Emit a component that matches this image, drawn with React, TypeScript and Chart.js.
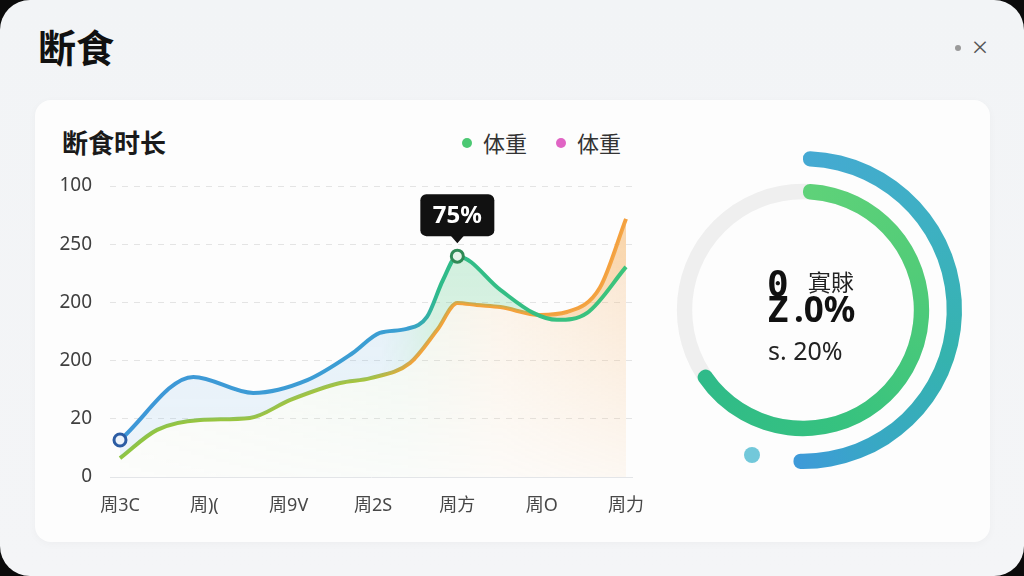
import React, { useEffect, useRef } from "react";
import { Chart, registerables } from "chart.js";

Chart.register(...registerables);

// ---------- data ----------
const CATEGORIES = ["周3C", "周)(", "周9V", "周2S", "周方", "周O", "周力"];
const Y_TICK_VALUES = [0, 20, 40, 60, 80, 100];
const Y_TICK_LABELS = ["0", "20", "200", "200", "250", "100"];

const SERIES_A_X = [0, 0.87, 1.58, 2.22, 2.76, 3.08, 3.4, 3.64, 3.83, 4.0, 4.51, 4.9, 5.18, 5.54, 6.0];
const SERIES_A_Y = [12.7, 34.4, 28.9, 33.3, 42.6, 49.5, 50.9, 55.0, 67.7, 75.9, 64.3, 56.4, 54.0, 56.4, 72.2];
const SERIES_B_X = [0, 0.44, 0.95, 1.54, 2.02, 2.61, 2.97, 3.44, 3.76, 4.0, 4.23, 4.51, 4.98, 5.3, 5.69, 6.0];
const SERIES_B_Y = [6.5, 16.2, 19.6, 20.3, 26.5, 32.3, 34.0, 39.2, 50.5, 59.8, 59.1, 58.4, 55.7, 56.7, 65.0, 88.7];

const PEAK_INDEX = 9;
const TOOLTIP_TEXT = "75%";
const LEGEND_LABELS = ["体重", "体重"];
const SERIES_LABELS = ["体重", "体重"];

const RING_OUTER = [51, 49];
const RING_INNER = [66.4, 33.6];

// ---------- styling helpers ----------
const FONT = '"Noto Sans", "Noto Sans CJK SC", sans-serif';
const CJK = '"Noto Sans CJK SC", "Noto Sans", sans-serif';

type Stop = [number, string];

function hGradient(chart: any, stops: Stop[]) {
  const { ctx, chartArea } = chart;
  if (!chartArea) return "transparent";
  const g = ctx.createLinearGradient(chartArea.left, 0, chartArea.right, 0);
  stops.forEach(([o, c]) => g.addColorStop(o, c));
  return g;
}

function fillPattern(chart: any, key: string, stops: Stop[], topA: number, botA: number) {
  const { chartArea, width, height } = chart;
  if (!chartArea) return "transparent";
  const cacheKey = `${key}_${width}_${height}_${chartArea.left}_${chartArea.top}_${chartArea.right}_${chartArea.bottom}`;
  chart.$fills = chart.$fills || {};
  if (chart.$fills[cacheKey]) return chart.$fills[cacheKey];
  const off = document.createElement("canvas");
  off.width = Math.ceil(width);
  off.height = Math.ceil(height);
  const c = off.getContext("2d")!;
  const g = c.createLinearGradient(chartArea.left, 0, chartArea.right, 0);
  stops.forEach(([o, col]) => g.addColorStop(o, col));
  c.fillStyle = g;
  c.fillRect(0, 0, off.width, off.height);
  c.globalCompositeOperation = "destination-in";
  const v = c.createLinearGradient(0, chartArea.top, 0, chartArea.bottom);
  v.addColorStop(0, `rgba(0,0,0,${topA})`);
  v.addColorStop(1, `rgba(0,0,0,${botA})`);
  c.fillStyle = v;
  c.fillRect(0, 0, off.width, off.height);
  const p = chart.ctx.createPattern(off, "no-repeat");
  chart.$fills[cacheKey] = p;
  return p;
}

function conic(chart: any, stops: Stop[]) {
  const { ctx, chartArea } = chart;
  if (!chartArea) return "transparent";
  const cx = (chartArea.left + chartArea.right) / 2;
  const cy = (chartArea.top + chartArea.bottom) / 2;
  const g = ctx.createConicGradient(-Math.PI / 2, cx, cy);
  stops.forEach(([o, c]) => g.addColorStop(o, c));
  return g;
}

const LINE_A_STROKE: Stop[] = [[0, "#3e97d8"], [0.57, "#3b9fd2"], [0.63, "#2fbb8a"], [1, "#3dc47b"]];
const LINE_B_STROKE: Stop[] = [[0, "#8dc63f"], [0.5, "#a6c440"], [0.58, "#f2a33a"], [1, "#f6a03e"]];
const FILL_A: Stop[] = [[0, "rgba(90,165,225,0.17)"], [0.52, "rgba(90,170,225,0.17)"], [0.62, "rgba(80,200,130,0.27)"], [1, "rgba(80,200,130,0.27)"]];
const FILL_A_BELOW = "rgba(246,175,90,0.28)";
const FILL_B: Stop[] = [[0, "rgba(170,210,110,0.07)"], [0.55, "rgba(140,205,140,0.16)"], [0.75, "rgba(245,180,100,0.18)"], [1, "rgba(245,165,80,0.32)"]];
const OUTER_STOPS: Stop[] = [[0, "#45a9d3"], [0.15, "#3eb0c3"], [0.3, "#35b3ae"], [0.42, "#38a8c4"], [0.52, "#3f98dc"]];
const INNER_STOPS: Stop[] = [[0, "#5fd279"], [0.2, "#52cc78"], [0.45, "#36c27f"], [0.67, "#2fba8a"]];

const calloutPlugin = {
  id: "callout",
  afterDatasetsDraw(chart: any) {
    const meta = chart.getDatasetMeta(0);
    const pt = meta.data[PEAK_INDEX];
    if (!pt) return;
    const { x, y } = pt;
    const ctx = chart.ctx;
    ctx.save();
    const w = 74, h = 42;
    const bottom = y - 20;
    const top = bottom - h;
    ctx.fillStyle = "#111111";
    ctx.beginPath();
    ctx.roundRect(x - w / 2, top, w, h, 6);
    ctx.fill();
    ctx.beginPath();
    ctx.moveTo(x - 7, bottom - 1);
    ctx.lineTo(x + 7, bottom - 1);
    ctx.lineTo(x, bottom + 7);
    ctx.closePath();
    ctx.fill();
    ctx.fillStyle = "#ffffff";
    ctx.font = `bold 24px ${FONT}`;
    ctx.textAlign = "center";
    ctx.textBaseline = "middle";
    ctx.fillText(TOOLTIP_TEXT, x, top + h / 2 + 1);
    ctx.restore();
  },
};

const trackPlugin = {
  id: "track",
  beforeDatasetsDraw(chart: any) {
    const meta = chart.getDatasetMeta(2);
    const arc = meta.data[0];
    if (!arc) return;
    const { x, y, innerRadius, outerRadius } = arc.getProps(["x", "y", "innerRadius", "outerRadius"], true);
    const ctx = chart.ctx;
    ctx.save();
    ctx.beginPath();
    ctx.arc(x, y, (innerRadius + outerRadius) / 2, 0, Math.PI * 2);
    ctx.lineWidth = outerRadius - innerRadius;
    ctx.strokeStyle = "#efefef";
    ctx.stroke();
    ctx.restore();
  },
};

function LineChart() {
  const ref = useRef<HTMLCanvasElement>(null);
  useEffect(() => {
    if (!ref.current) return;
    const dataA = SERIES_A_X.map((x, i) => ({ x, y: SERIES_A_Y[i] }));
    const dataB = SERIES_B_X.map((x, i) => ({ x, y: SERIES_B_Y[i] }));
    const chart = new Chart(ref.current, {
      type: "line",
      data: {
        datasets: [
          {
            label: SERIES_LABELS[0],
            data: dataA,
            borderColor: (c: any) => hGradient(c.chart, LINE_A_STROKE),
            backgroundColor: (c: any) => fillPattern(c.chart, "a", FILL_A, 1, 0.6),
            fill: { target: "+1", below: FILL_A_BELOW },
            borderWidth: 4,
            cubicInterpolationMode: "monotone",
            pointRadius: (c: any) => (c.dataIndex === 0 || c.dataIndex === PEAK_INDEX ? 6 : 0),
            pointBorderWidth: 3,
            pointBorderColor: (c: any) => (c.dataIndex === 0 ? "#2c5ca3" : "#2f8a55"),
            pointBackgroundColor: (c: any) => (c.dataIndex === 0 ? "#eef4fb" : "#e4f3e7"),
          },
          {
            label: SERIES_LABELS[1],
            data: dataB,
            borderColor: (c: any) => hGradient(c.chart, LINE_B_STROKE),
            backgroundColor: (c: any) => fillPattern(c.chart, "b", FILL_B, 1, 0.2),
            fill: "origin",
            borderWidth: 4,
            cubicInterpolationMode: "monotone",
            pointRadius: 0,
          },
        ],
      },
      options: {
        animation: false,
        responsive: true,
        maintainAspectRatio: false,
        events: [],
        layout: { padding: { top: 20, right: 20, left: 0, bottom: 0 } },
        plugins: { legend: { display: false }, tooltip: { enabled: false } },
        scales: {
          x: {
            type: "linear",
            min: -0.1186,
            max: 6.0712,
            afterBuildTicks: (s: any) => {
              s.ticks = CATEGORIES.map((_, i) => ({ value: i }));
            },
            afterFit: (s: any) => {
              s.height = 43;
              s.paddingLeft = 0;
              s.paddingRight = 0;
            },
            grid: { display: false, drawTicks: false },
            border: { display: true, color: "#e3e5e8", width: 1 },
            ticks: {
              padding: 18,
              color: "#474747",
              autoSkip: false,
              maxRotation: 0,
              font: { family: FONT, size: 18 },
              callback: (v: any) => CATEGORIES[Math.round(Number(v))] ?? "",
            },
          },
          y: {
            min: 0,
            max: 100,
            afterBuildTicks: (s: any) => {
              s.ticks = Y_TICK_VALUES.map((v) => ({ value: v }));
            },
            afterFit: (s: any) => {
              s.width = 70;
              s.paddingTop = 0;
              s.paddingBottom = 0;
            },
            grid: { color: "#e4e4e4", drawTicks: false, lineWidth: 1 },
            border: { display: false, dash: [6, 6] },
            ticks: {
              padding: 18,
              color: "#3f3f3f",
              font: { family: FONT, size: 19 },
              callback: (_v: any, i: number) => Y_TICK_LABELS[i],
            },
          },
        },
      },
      plugins: [calloutPlugin],
    } as any);
    return () => chart.destroy();
  }, []);
  return (
    <div style={{ position: "absolute", left: 40, top: 166, width: 612, height: 354 }}>
      <canvas ref={ref} />
    </div>
  );
}

function RingChart() {
  const ref = useRef<HTMLCanvasElement>(null);
  useEffect(() => {
    if (!ref.current) return;
    const chart = new Chart(ref.current, {
      type: "doughnut",
      data: {
        datasets: [
          {
            data: RING_OUTER,
            weight: 14,
            borderWidth: 0,
            backgroundColor: (c: any) => (c.dataIndex === 0 ? conic(c.chart, OUTER_STOPS) : "rgba(0,0,0,0)"),
            borderRadius: (c: any) => (c.dataIndex === 0 ? 7 : 0),
          },
          { data: [1], weight: 16, borderWidth: 0, backgroundColor: "rgba(0,0,0,0)" },
          {
            data: RING_INNER,
            weight: 14,
            borderWidth: 0,
            backgroundColor: (c: any) => (c.dataIndex === 0 ? conic(c.chart, INNER_STOPS) : "rgba(0,0,0,0)"),
            borderRadius: (c: any) => (c.dataIndex === 0 ? 7 : 0),
          },
        ],
      },
      options: {
        animation: false,
        responsive: true,
        maintainAspectRatio: false,
        events: [],
        radius: 159,
        cutout: 115,
        plugins: { legend: { display: false }, tooltip: { enabled: false } },
      },
      plugins: [trackPlugin],
    } as any);
    return () => chart.destroy();
  }, []);
  return (
    <div style={{ position: "absolute", left: 638, top: 145, width: 330, height: 330 }}>
      <canvas ref={ref} />
    </div>
  );
}

const abs = (s: React.CSSProperties): React.CSSProperties => ({ position: "absolute", whiteSpace: "nowrap", ...s });

export default function App() {
  return (
    <div style={{ position: "fixed", left: 0, top: 0, width: 1024, height: 576, background: "#0b0b0b", overflow: "hidden" }}>
      <div style={abs({ left: 0, top: 0, width: 1024, height: 576, borderRadius: 30, background: "linear-gradient(#f2f4f6, #f4f5f7)" })} />
      <div style={abs({ left: 38, top: 27, fontFamily: CJK, fontWeight: 700, fontSize: 38, lineHeight: "38px", color: "#111" })}>断食</div>
      <div style={abs({ left: 955, top: 45, width: 6, height: 6, borderRadius: 3, background: "#9a9a9a" })} />
      <div style={abs({ left: 972, top: 32, fontFamily: FONT, fontWeight: 300, fontSize: 28, lineHeight: "28px", color: "#555" })}>×</div>

      <div style={abs({ left: 35, top: 100, width: 955, height: 442, borderRadius: 16, background: "#fdfdfd", boxShadow: "0 2px 8px rgba(0,0,0,0.03)" })} />
      <div style={abs({ left: 62, top: 129, fontFamily: CJK, fontWeight: 700, fontSize: 26, lineHeight: "26px", color: "#1a1a1a" })}>断食时长</div>

      <div style={abs({ left: 462, top: 138, width: 10, height: 10, borderRadius: 5, background: "#4cc873" })} />
      <div style={abs({ left: 483, top: 131, fontFamily: CJK, fontSize: 22, lineHeight: "22px", color: "#333" })}>{LEGEND_LABELS[0]}</div>
      <div style={abs({ left: 556, top: 138, width: 10, height: 10, borderRadius: 5, background: "#e064c4" })} />
      <div style={abs({ left: 577, top: 131, fontFamily: CJK, fontSize: 22, lineHeight: "22px", color: "#333" })}>{LEGEND_LABELS[1]}</div>

      <LineChart />
      <RingChart />

      <div style={abs({ left: 744, top: 447, width: 16, height: 16, borderRadius: 8, background: "#72c8da" })} />

      <div style={abs({ left: 767, top: 266, fontFamily: '"DejaVu Sans Mono", monospace', fontWeight: 700, fontSize: 36, lineHeight: "36px", color: "#111" })}>0</div>
      <div style={abs({ left: 767, top: 292, fontFamily: '"DejaVu Sans Mono", monospace', fontWeight: 700, fontSize: 36, lineHeight: "36px", color: "#111" })}>Z</div>
      <div style={abs({ left: 808, top: 270, fontFamily: CJK, fontSize: 23, lineHeight: "23px", color: "#222" })}>寘賕</div>
      <div style={abs({ left: 794, top: 291, fontFamily: FONT, fontWeight: 700, fontSize: 35, lineHeight: "35px", color: "#111" })}>.0%</div>
      <div style={abs({ left: 768, top: 338, fontFamily: FONT, fontSize: 25, lineHeight: "25px", color: "#222" })}>s. 20%</div>
    </div>
  );
}
